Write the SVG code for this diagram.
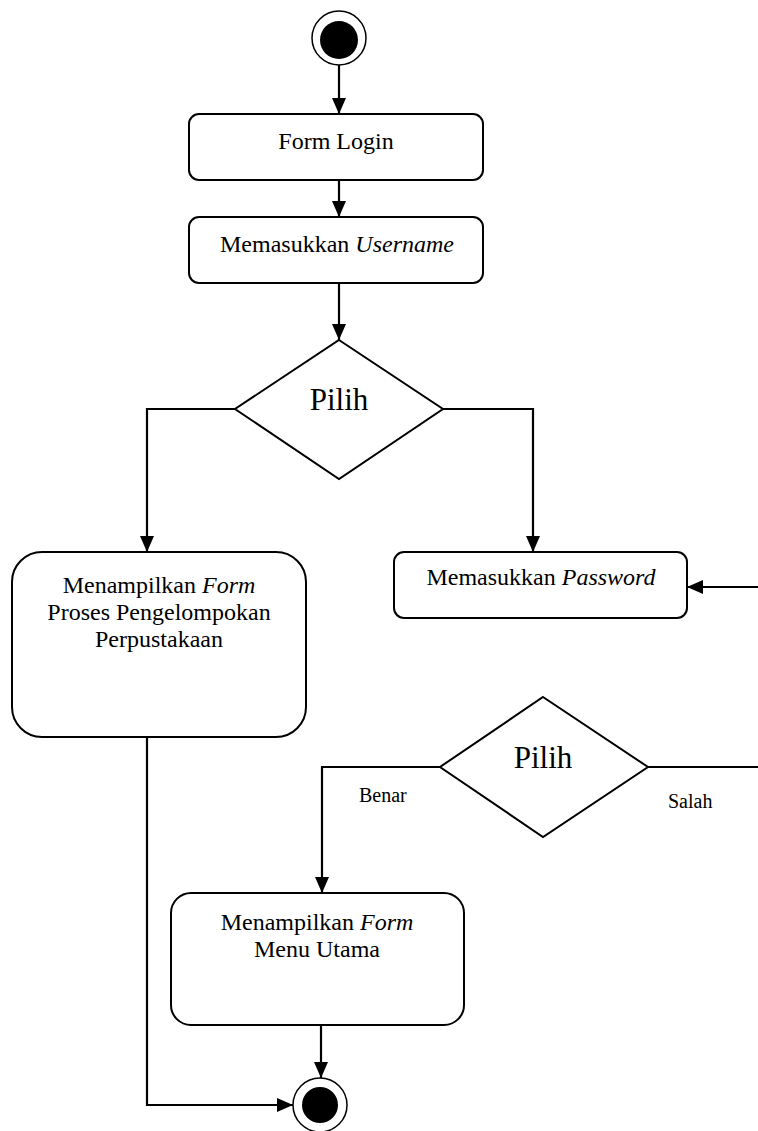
<svg xmlns="http://www.w3.org/2000/svg" width="758" height="1131" viewBox="0 0 758 1131">
  <style>
    .box { fill: #ffffff; stroke: #000000; stroke-width: 2; }
    .dec { fill: #ffffff; stroke: #000000; stroke-width: 2; }
    .ring { fill: #ffffff; stroke: #000000; stroke-width: 1.5; }
    .dot { fill: #000000; }
    .flow { fill: none; stroke: #000000; stroke-width: 2.2; }
    .arr { marker-end: url(#head); }
    text { font-family: 'Liberation Serif', 'DejaVu Serif', serif; fill: #000000; }
    .t { font-size: 24px; text-anchor: middle; }
    .big { font-size: 31px; }
    .lbl { font-size: 20px; }
    .it { font-style: italic; }
  </style>
  <defs>
    <marker id="head" markerUnits="userSpaceOnUse" markerWidth="16" markerHeight="14" refX="16" refY="7" orient="auto">
      <path d="M0,0 L16,7 L0,14 Z" fill="#000000"/>
    </marker>
  </defs>

  <rect width="758" height="1131" fill="#ffffff"/>

  <!-- connectors -->
  <g id="connectors">
    <path class="flow arr" d="M339,65 V114"/>
    <path class="flow arr" d="M339,180 V217"/>
    <path class="flow arr" d="M339,283 V340"/>
    <path class="flow arr" d="M235,409 H147 V552"/>
    <path class="flow arr" d="M443,409 H533 V552"/>
    <path class="flow arr" d="M758,587 H687"/>
    <path class="flow arr" d="M147,737 V1105 H293"/>
    <path class="flow arr" d="M440,767 H322 V893"/>
    <path class="flow" d="M648,767 H758"/>
    <path class="flow arr" d="M321,1025 V1078"/>
    <text class="lbl" x="359" y="802" font-family="Liberation Serif, serif">Benar</text>
    <text class="lbl" x="668" y="808" font-family="Liberation Serif, serif">Salah</text>
  </g>

  <!-- initial node -->
  <g id="start">
    <circle class="ring" cx="339" cy="38" r="27"/>
    <circle class="dot" cx="339" cy="40" r="19"/>
  </g>

  <g id="form-login">
    <rect class="box" x="189" y="114" width="294" height="66" rx="10"/>
    <text class="t" x="336" y="149" font-family="Liberation Serif, serif">Form Login</text>
  </g>

  <g id="input-username">
    <rect class="box" x="189" y="217" width="294" height="66" rx="10"/>
    <text class="t" x="337" y="252" font-family="Liberation Serif, serif">Memasukkan <tspan class="it">Username</tspan></text>
  </g>

  <g id="decision-1">
    <polygon class="dec" points="339,340 443,409 339,479 235,409"/>
    <text class="t big" x="339" y="410" font-family="Liberation Serif, serif">Pilih</text>
  </g>

  <g id="form-pengelompokan">
    <rect class="box" x="12" y="552" width="294" height="185" rx="30"/>
    <text class="t" x="159" y="593" font-family="Liberation Serif, serif">Menampilkan <tspan class="it">Form</tspan></text>
    <text class="t" x="159" y="620" font-family="Liberation Serif, serif">Proses Pengelompokan</text>
    <text class="t" x="159" y="647" font-family="Liberation Serif, serif">Perpustakaan</text>
  </g>

  <g id="input-password">
    <rect class="box" x="394" y="552" width="293" height="66" rx="10"/>
    <text class="t" x="541" y="585" font-family="Liberation Serif, serif">Memasukkan <tspan class="it">Password</tspan></text>
  </g>

  <g id="decision-2">
    <polygon class="dec" points="543,697 648,767 543,837 440,767"/>
    <text class="t big" x="543" y="768" font-family="Liberation Serif, serif">Pilih</text>
  </g>

  <g id="menu-utama">
    <rect class="box" x="171" y="893" width="293" height="132" rx="20"/>
    <text class="t" x="317" y="930" font-family="Liberation Serif, serif">Menampilkan <tspan class="it">Form</tspan></text>
    <text class="t" x="317" y="957" font-family="Liberation Serif, serif">Menu Utama</text>
  </g>

  <!-- final node -->
  <g id="end">
    <circle class="ring" cx="320" cy="1105" r="27"/>
    <circle class="dot" cx="320" cy="1105" r="18"/>
  </g>
</svg>
